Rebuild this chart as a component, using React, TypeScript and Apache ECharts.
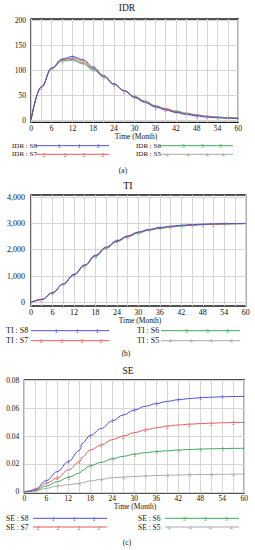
import React, { useEffect, useRef } from 'react';
import * as echarts from 'echarts';

// ---------- data ----------
const MONTHS = [0, 3, 6, 9, 12, 15, 18, 21, 24, 27, 30, 33, 36, 39, 42, 45, 48, 51, 54, 57, 60];
const SE_MONTHS = [0, 1.5, 3, 6, 9, 12, 15, 15.4, 15.6, 18, 21, 24, 27, 30, 33, 36, 39, 42, 45, 48, 51, 54, 57, 60];

const SCENARIOS = ['S8', 'S7', 'S6', 'S5'];
const MARKER_DIGITS = ['1', '2', '3', '4'];

const IDR_S8 = [0, 66, 104, 122, 127, 121, 106, 89, 72, 58, 45, 35, 26, 20, 15, 11, 8, 6, 4.5, 3.5, 2.5];
const IDR_S7 = [0, 66, 104, 121, 124, 118, 104, 88, 72, 58, 46, 36, 27, 21, 16, 12, 9, 6.5, 5, 4, 3];
const IDR_S6 = [0, 66, 103, 119, 121, 114, 102, 87, 72, 59, 47, 37, 28, 22, 17, 13, 10, 7, 5.5, 4.5, 3.5];
const IDR_S5 = [0, 66, 103, 118, 119, 112, 100, 86, 71, 59, 47, 38, 29, 23, 18, 14, 10.5, 7.5, 6, 5, 4];

const TI_S8 = [0, 110, 360, 700, 1060, 1420, 1790, 2100, 2340, 2520, 2670, 2770, 2840, 2890, 2925, 2950, 2968, 2980, 2988, 2994, 2998];
const TI_S7 = [0, 110, 360, 700, 1055, 1410, 1775, 2085, 2330, 2510, 2660, 2760, 2830, 2880, 2918, 2944, 2962, 2975, 2984, 2990, 2995];
const TI_S6 = [0, 110, 358, 695, 1045, 1395, 1755, 2065, 2310, 2495, 2645, 2748, 2818, 2868, 2906, 2934, 2954, 2968, 2978, 2985, 2990];
const TI_S5 = [0, 110, 357, 692, 1040, 1385, 1740, 2050, 2295, 2480, 2630, 2735, 2805, 2858, 2898, 2926, 2948, 2963, 2974, 2982, 2988];

const SE_S8 = [0, 0.0005, 0.002, 0.008, 0.0145, 0.0217, 0.0296, 0.0312, 0.0345, 0.0405, 0.0455, 0.051, 0.0552, 0.0588, 0.0615, 0.0634, 0.065, 0.0662, 0.067, 0.0676, 0.068, 0.0683, 0.0685, 0.0686];
const SE_S7 = [0, 0.0005, 0.0015, 0.006, 0.01, 0.0157, 0.0215, 0.0226, 0.0245, 0.03, 0.0337, 0.0375, 0.0401, 0.0425, 0.0445, 0.046, 0.0472, 0.048, 0.0486, 0.049, 0.0493, 0.0496, 0.0498, 0.0499];
const SE_S6 = [0, 0.0003, 0.001, 0.0042, 0.0073, 0.0104, 0.0135, 0.014, 0.015, 0.0188, 0.0212, 0.0237, 0.0255, 0.027, 0.0281, 0.0289, 0.0295, 0.03, 0.0304, 0.0307, 0.0309, 0.0311, 0.0312, 0.0313];
const SE_S5 = [0, 0.0002, 0.0006, 0.0025, 0.0042, 0.0051, 0.0061, 0.0062, 0.0064, 0.0078, 0.009, 0.0101, 0.0106, 0.011, 0.0114, 0.0117, 0.0119, 0.0121, 0.0123, 0.0124, 0.0125, 0.0126, 0.0127, 0.0128];

const X_TICKS = [0, 6, 12, 18, 24, 30, 36, 42, 48, 54, 60];
const IDR_TICKS = [0, 50, 100, 150, 200];
const TI_TICKS = [0, 1000, 2000, 3000, 4000];
const SE_TICKS = [0, 0.02, 0.04, 0.06, 0.08];

// ---------- styles ----------
const COLORS = ['#4d4dd9', '#e45b5b', '#3ca85e', '#a9a9a9'];
const FONT = 'Liberation Serif, Times New Roman, serif';
const GRID_COLOR = '#d6d6d6';

type Panel = {
  name: string;
  months: number[];
  values: number[][];
  ticks: number[];
  fmt: (v: number) => string;
  grid: { left: number; top: number; width: number; height: number };
  yMin: number;
  yMax: number;
  tickFont: number;
  titleY: number;
  titleX: number;
  titleFont: number;
  axisNameY: number;
  axisNameX: number;
  caption: string;
  captionY: number;
  captionX: number;
  xLabelMargin: number;
  yLabelMargin: number;
  markerPeriod: number;
  markerPhases: number[];
  markerStart: number[];
  legend: {
    rows: number[];
    font: number;
    leftText: number;
    leftLine: [number, number];
    rightText: number;
    rightLine: [number, number];
    markers: number[][];
  };
};

const PANELS: Panel[] = [
  {
    name: 'IDR',
    months: MONTHS,
    values: [IDR_S8, IDR_S7, IDR_S6, IDR_S5],
    ticks: IDR_TICKS,
    fmt: (v) => String(v),
    grid: { left: 31, top: 19, width: 207.3, height: 103.3 },
    yMin: -4.6,
    yMax: 202,
    tickFont: 7.5,
    titleY: 8,
    titleX: 127,
    titleFont: 9.5,
    axisNameY: 136,
    axisNameX: 136,
    caption: '(a)',
    captionY: 170,
    captionX: 123,
    xLabelMargin: 2,
    yLabelMargin: 5,
    markerPeriod: 12,
    markerPhases: [0, 3, 6, 9],
    markerStart: [0, 0, 0, 0],
    legend: {
      rows: [145.7, 154.3],
      font: 7,
      leftText: 12,
      leftLine: [36, 109],
      rightText: 136,
      rightLine: [159, 233],
      markers: [[59, 79, 98], [44, 65, 84, 103], [183, 202, 220], [167, 188, 207, 223]],
    },
  },
  {
    name: 'TI',
    months: MONTHS,
    values: [TI_S8, TI_S7, TI_S6, TI_S5],
    ticks: TI_TICKS,
    fmt: (v) => v.toLocaleString('en-US'),
    grid: { left: 31, top: 195, width: 214.7, height: 111 },
    yMin: -137,
    yMax: 4076,
    tickFont: 8,
    titleY: 185,
    titleX: 128,
    titleFont: 10,
    axisNameY: 320,
    axisNameX: 140,
    caption: '(b)',
    captionY: 353,
    captionX: 126,
    xLabelMargin: 2,
    yLabelMargin: 6,
    markerPeriod: 12,
    markerPhases: [0, 3, 6, 9],
    markerStart: [0, 0, 0, 0],
    legend: {
      rows: [330.7, 340.7],
      font: 8,
      leftText: 6,
      leftLine: [31, 109],
      rightText: 137,
      rightLine: [161, 240],
      markers: [[56, 77, 97], [41, 62, 82, 101], [186, 207, 227], [170, 191, 211, 231]],
    },
  },
  {
    name: 'SE',
    months: SE_MONTHS,
    values: [SE_S8, SE_S7, SE_S6, SE_S5],
    ticks: SE_TICKS,
    fmt: (v) => (v === 0 ? '0' : v.toFixed(2)),
    grid: { left: 24.3, top: 380, width: 220, height: 113 },
    yMin: -0.00086,
    yMax: 0.08036,
    tickFont: 7.5,
    titleY: 371,
    titleX: 128,
    titleFont: 9.5,
    axisNameY: 506.7,
    axisNameX: 135,
    caption: '(c)',
    captionY: 542,
    captionX: 127,
    xLabelMargin: 1,
    yLabelMargin: 5,
    markerPeriod: 6,
    markerPhases: [0, 3, 0, 3],
    markerStart: [0, 0, 7, 0],
    legend: {
      rows: [518.3, 527],
      font: 7.5,
      leftText: 6,
      leftLine: [33, 107],
      rightText: 138,
      rightLine: [165, 239],
      markers: [[53, 74, 94], [38, 58, 79, 99], [184, 205, 226], [169, 190, 210, 231]],
    },
  },
];

function textEl(text: string, x: number, y: number, size: number, align: string, color = '#111') {
  return {
    type: 'text',
    silent: true,
    style: {
      text,
      x,
      y,
      fill: color,
      fontSize: size,
      fontFamily: FONT,
      align,
      textAlign: align,
      verticalAlign: 'middle',
      textVerticalAlign: 'middle',
    },
  };
}

function buildOption() {
  const grids: any[] = [];
  const xAxes: any[] = [];
  const yAxes: any[] = [];
  const series: any[] = [];
  const graphics: any[] = [];

  PANELS.forEach((p, k) => {
    grids.push({
      left: p.grid.left,
      top: p.grid.top,
      width: p.grid.width,
      height: p.grid.height,
      show: true,
      borderColor: '#1a1a1a',
      borderWidth: 1.3,
      backgroundColor: '#fff',
    });
    xAxes.push({
      type: 'value',
      gridIndex: k,
      min: 0,
      max: 60,
      interval: 3,
      axisLine: { show: false },
      axisTick: { show: false },
      axisLabel: {
        fontSize: p.tickFont,
        fontFamily: FONT,
        color: '#111',
        margin: p.xLabelMargin,
        formatter: (v: number) => (X_TICKS.indexOf(v) >= 0 ? String(v) : ''),
      },
      splitLine: { show: true, lineStyle: { color: GRID_COLOR, width: 1 } },
    });
    yAxes.push({
      type: 'value',
      gridIndex: k,
      min: p.yMin,
      max: p.yMax,
      axisLine: { show: false },
      axisTick: { show: false, customValues: p.ticks },
      axisLabel: {
        customValues: p.ticks,
        fontSize: p.tickFont,
        fontFamily: FONT,
        color: '#111',
        margin: p.yLabelMargin,
        formatter: (v: number) => p.fmt(v),
      },
      splitLine: { show: true, lineStyle: { color: GRID_COLOR, width: 1 } },
    });

    p.values.forEach((vals, i) => {
      const pts = p.months.map((t, j) => [t, vals[j]]);
      series.push({
        type: 'line',
        name: `${p.name} : ${SCENARIOS[i]}`,
        xAxisIndex: k,
        yAxisIndex: k,
        data: pts,
        showSymbol: false,
        smooth: 0.4,
        smoothMonotone: 'x',
        lineStyle: { color: COLORS[i], width: 1 },
        itemStyle: { color: COLORS[i] },
        z: 5 - i,
        silent: true,
      });
      const phase = p.markerPhases[i];
      const start = p.markerStart[i];
      const marks = pts.filter(
        ([t]) => t > start && t < 60 && Number.isInteger(t) && t % p.markerPeriod === phase
      );
      series.push({
        type: 'scatter',
        xAxisIndex: k,
        yAxisIndex: k,
        data: marks,
        symbol: 'circle',
        symbolSize: 1,
        itemStyle: { color: 'rgba(0,0,0,0)' },
        label: {
          show: true,
          position: 'inside',
          formatter: MARKER_DIGITS[i],
          color: COLORS[i],
          fontSize: 6.5,
          fontFamily: FONT,
        },
        silent: true,
        z: 10,
      });
    });

    graphics.push(textEl(p.name, p.titleX, p.titleY, p.titleFont, 'center'));
    graphics.push(textEl('Time (Month)', p.axisNameX, p.axisNameY, 7.5, 'center'));
    graphics.push(textEl(p.caption, p.captionX, p.captionY, 7.5, 'center'));

    const L = p.legend;
    const layout = [
      { text: L.leftText, line: L.leftLine, row: 0 },
      { text: L.leftText, line: L.leftLine, row: 1 },
      { text: L.rightText, line: L.rightLine, row: 0 },
      { text: L.rightText, line: L.rightLine, row: 1 },
    ];
    SCENARIOS.forEach((s, i) => {
      const pos = layout[i];
      const y = L.rows[pos.row];
      graphics.push(textEl(`${p.name} : ${s}`, pos.text, y, L.font, 'left'));
      graphics.push({
        type: 'line',
        silent: true,
        shape: { x1: pos.line[0], y1: y, x2: pos.line[1], y2: y },
        style: { stroke: COLORS[i], lineWidth: 1 },
      });
      L.markers[i].forEach((mx) => {
        graphics.push(textEl(MARKER_DIGITS[i], mx, y, 6.5, 'center', COLORS[i]));
      });
    });
  });

  return {
    animation: false,
    backgroundColor: '#ffffff',
    grid: grids,
    xAxis: xAxes,
    yAxis: yAxes,
    series,
    graphic: graphics,
  };
}

export default function App() {
  const ref = useRef<HTMLDivElement>(null);
  useEffect(() => {
    if (!ref.current) return;
    const chart = echarts.init(ref.current, undefined, { renderer: 'svg' });
    chart.setOption(buildOption() as any);
    return () => chart.dispose();
  }, []);
  return (
    <div
      ref={ref}
      style={{ position: 'absolute', left: 0, top: 0, width: 255, height: 550, background: '#fff' }}
    />
  );
}
